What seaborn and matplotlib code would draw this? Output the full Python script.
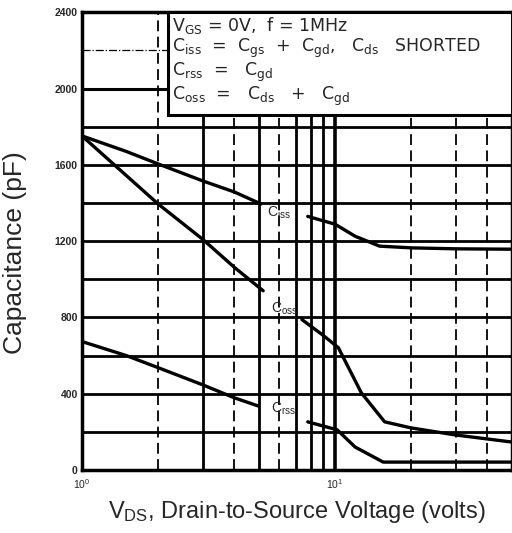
import pandas as pd
import matplotlib.pyplot as plt
import seaborn as sns

# Capacitance vs V_DS (gaps where labels sit)
ciss_v_lo = [1, 1.5, 2, 3, 4, 5.1]
ciss_lo = [1752, 1670, 1605, 1516, 1458, 1395]
ciss_v_hi = [7.8, 10, 12, 15, 20, 30, 50]
ciss_hi = [1330, 1289, 1226, 1174, 1165, 1160, 1158]

coss_v_lo = [1, 2, 3, 4, 5.2]
coss_lo = [1752, 1395, 1210, 1063, 940]
coss_v_hi = [7.4, 9, 10.3, 12.7, 15.7, 20, 30, 50]
coss_hi = [789, 705, 642, 405, 253, 221, 184, 147]

crss_v_lo = [1, 1.5, 2, 3, 4, 5]
crss_lo = [674, 600, 537, 447, 379, 335]
crss_v_hi = [7.8, 10.2, 12, 15.5, 20, 50]
crss_hi = [253, 211, 121, 42, 42, 42]

y_ticks = [0, 400, 800, 1200, 1600, 2000, 2400]
y_grid = [200, 400, 600, 800, 1000, 1200, 1400, 1600, 1800]
x_grid_solid = [3, 5, 7, 8, 9, 10]
x_grid_dashed = [2, 4, 6, 20, 30, 40]

# build a long table, one unit per line piece
pieces = {
    "ciss_lo": (ciss_v_lo, ciss_lo), "ciss_hi": (ciss_v_hi, ciss_hi),
    "coss_lo": (coss_v_lo, coss_lo), "coss_hi": (coss_v_hi, coss_hi),
    "crss_lo": (crss_v_lo, crss_lo), "crss_hi": (crss_v_hi, crss_hi),
}
rows = []
for name, (vs, cs) in pieces.items():
    for v, c in zip(vs, cs):
        rows.append({"V": v, "C": c, "seg": name})
df = pd.DataFrame(rows)

sns.set_style("white")
plt.rcParams['font.family'] = ['Liberation Sans', 'DejaVu Sans']
plt.rcParams['mathtext.default'] = 'regular'

fig = plt.figure(figsize=(5.12, 5.33), dpi=100)
ax = fig.add_axes([0.16, 0.118, 0.84, 0.859])

# grid drawn by hand: the scan has mixed solid / dashed rules
for y in y_grid:
    ax.axhline(y, color="black", lw=2.0, zorder=1)
ax.axhline(2200, color="black", lw=0.9, ls="-.", zorder=1)
ax.axhline(2000, color="black", lw=2.2, zorder=1)
for x in x_grid_solid:
    ax.axvline(x, color="black", lw=2.0 if x != 10 else 2.6, zorder=1)
for x in x_grid_dashed:
    ax.axvline(x, color="black", lw=1.3, ls=(0, (6, 3)), zorder=1)

sns.lineplot(data=df, x="V", y="C", units="seg", estimator=None,
             color="black", lw=2.4, ax=ax, legend=False, zorder=3)

ax.set_xscale("log")
ax.set_xlim(1, 50)
ax.set_ylim(0, 2400)

# curve labels
ax.text(5.4, 1350, "C$_{iss}$", fontsize=10, va="center", zorder=4)
ax.text(5.6, 845, "C$_{oss}$", fontsize=10, va="center", zorder=4)
ax.text(5.6, 322, "C$_{rss}$", fontsize=10, va="center", zorder=4)

# condition box
box = plt.Rectangle((0.2, 0.775), 0.8, 0.225, transform=ax.transAxes,
                    facecolor="white", edgecolor="black", lw=2.2, zorder=5)
ax.add_patch(box)
notes = [
    "V$_{GS}$ = 0V,  f = 1MHz",
    "C$_{iss}$  =  C$_{gs}$  +  C$_{gd}$,   C$_{ds}$   SHORTED",
    "C$_{rss}$  =   C$_{gd}$",
    "C$_{oss}$  =   C$_{ds}$   +   C$_{gd}$",
]
for i, line in enumerate(notes):
    ax.text(0.209, 0.972 - i * 0.052, line, transform=ax.transAxes,
            fontsize=12.5, va="center", ha="left", zorder=6,
            family=["DejaVu Sans"])

ax.set_yticks(y_ticks)
ax.set_yticklabels([str(t) for t in y_ticks], fontsize=7.5, fontweight="bold")
ax.set_xticks([1, 10])
ax.set_xticklabels(["$10^0$", "$10^1$"], fontsize=7.5)
ax.minorticks_off()
ax.tick_params(axis="y", length=0, pad=3)
ax.tick_params(axis="x", length=0, pad=5)

for s in ax.spines.values():
    s.set_linewidth(2.5)
    s.set_color("black")

ax.set_xlabel("V$_{DS}$, Drain-to-Source Voltage (volts)", fontsize=17, labelpad=6)
ax.set_ylabel("Capacitance (pF)", fontsize=19)
ax.yaxis.set_label_coords(-0.128, 0.475)

fig.savefig("out.png", dpi=100)
